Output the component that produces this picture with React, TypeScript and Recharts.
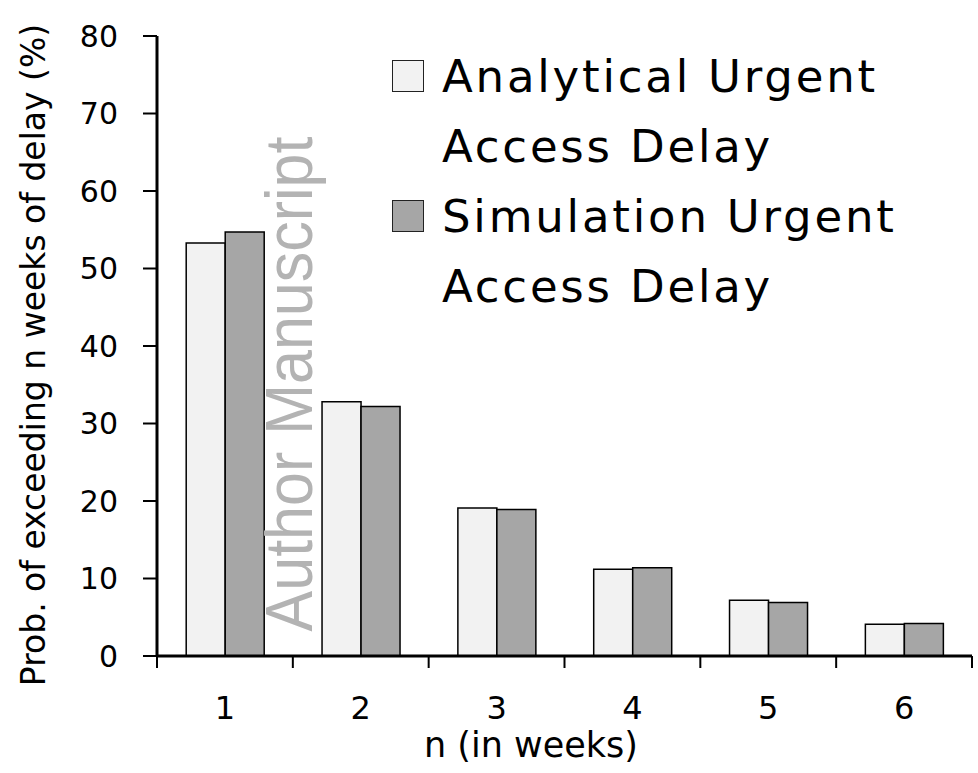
import { BarChart, Bar, XAxis, YAxis, Legend } from 'recharts';

const weeks = ['1', '2', '3', '4', '5', '6'];
const analytical = [53.3, 32.8, 19.1, 11.2, 7.2, 4.1];
const simulation = [54.7, 32.2, 18.9, 11.4, 6.9, 4.2];
const yTicks = [0, 10, 20, 30, 40, 50, 60, 70, 80];

const FONT = '"DejaVu Sans", sans-serif';
const LIGHT = '#f2f2f2';
const DARK = '#a6a6a6';

const WIDTH = 978;
const HEIGHT = 773;
const Y_AXIS_WIDTH = 157;
const RIGHT = 6;
const LABEL_GAP = 40;
const bandWidth = (WIDTH - Y_AXIS_WIDTH - RIGHT) / weeks.length;

const data = weeks.map((w, i) => ({
  week: w,
  analytical: analytical[i],
  simulation: simulation[i],
}));

// category label plus tick marks on the category boundaries
const WeekTick = (props: any) => {
  const { x, y, payload, index } = props;
  const axisY = y - LABEL_GAP;
  const edges = [x - bandWidth / 2];
  if (index === weeks.length - 1) edges.push(x + bandWidth / 2);
  return (
    <g>
      {edges.map((ex) => (
        <line key={ex} x1={ex} x2={ex} y1={axisY} y2={axisY + 12} stroke="#000" strokeWidth={2} />
      ))}
      <text x={x} y={y} dy="0.71em" textAnchor="middle" fontSize={32} fontFamily={FONT} fill="#000">
        {payload.value}
      </text>
    </g>
  );
};

const renderLegend = (props: any) => {
  const { payload = [] } = props;
  return (
    <div
      style={{
        fontFamily: FONT,
        fontSize: 45,
        lineHeight: '70px',
        letterSpacing: '2.8px',
        color: '#000',
        textAlign: 'left',
      }}
    >
      {payload.map((entry: any) => (
        <div key={entry.value} style={{ position: 'relative', paddingLeft: 50, maxWidth: 500 }}>
          <span
            style={{
              position: 'absolute',
              left: 0,
              top: 18,
              width: 30,
              height: 30,
              background: entry.color,
              border: '1.5px solid #222',
            }}
          />
          {entry.value}
        </div>
      ))}
    </div>
  );
};

export default function App() {
  return (
    <div style={{ position: 'absolute', left: 0, top: 0, width: WIDTH, height: HEIGHT, background: '#fff' }}>
      <BarChart
        width={WIDTH}
        height={HEIGHT}
        data={data}
        margin={{ top: 36, right: RIGHT, bottom: 0, left: 0 }}
        barCategoryGap="21.5%"
        barGap={0}
      >
        <XAxis
          dataKey="week"
          height={117}
          tickLine={false}
          tickSize={0}
          tickMargin={LABEL_GAP}
          interval={0}
          axisLine={{ stroke: '#000', strokeWidth: 3 }}
          tick={<WeekTick />}
          label={{
            content: () => (
              <text x={531} y={757} textAnchor="middle" fontSize={35} fontFamily={FONT} fill="#000">
                n (in weeks)
              </text>
            ),
          }}
        />
        <YAxis
          width={Y_AXIS_WIDTH}
          domain={[0, 80]}
          ticks={yTicks}
          interval={0}
          tickSize={14}
          tickMargin={25}
          axisLine={{ stroke: '#000', strokeWidth: 3 }}
          tickLine={{ stroke: '#000', strokeWidth: 2 }}
          tick={{ fill: '#000', fontSize: 30, fontFamily: FONT }}
          label={{
            content: () => (
              <text
                transform="translate(45, 355) rotate(-90)"
                textAnchor="middle"
                fontSize={33}
                fontFamily={FONT}
                fill="#000"
              >
                Prob. of exceeding n weeks of delay (%)
              </text>
            ),
          }}
        />
        <Legend
          layout="horizontal"
          verticalAlign="middle"
          align="center"
          content={renderLegend}
          wrapperStyle={{ position: 'absolute', left: 392, top: 42, width: 580 }}
        />
        <Bar
          dataKey="analytical"
          name="Analytical Urgent Access Delay"
          fill={LIGHT}
          stroke="#000"
          strokeWidth={1.5}
          isAnimationActive={false}
        />
        <Bar
          dataKey="simulation"
          name="Simulation Urgent Access Delay"
          fill={DARK}
          stroke="#000"
          strokeWidth={1.5}
          isAnimationActive={false}
        />
      </BarChart>
      <svg width={WIDTH} height={HEIGHT} style={{ position: 'absolute', left: 0, top: 0, pointerEvents: 'none' }}>
        <text
          transform="translate(312, 384) scale(1.08, 1) rotate(-90)"
          textAnchor="middle"
          fontSize={61}
          fontFamily='"Liberation Sans", Arial, sans-serif'
          fill="#b3b3b3"
        >
          Author Manuscript
        </text>
      </svg>
    </div>
  );
}
